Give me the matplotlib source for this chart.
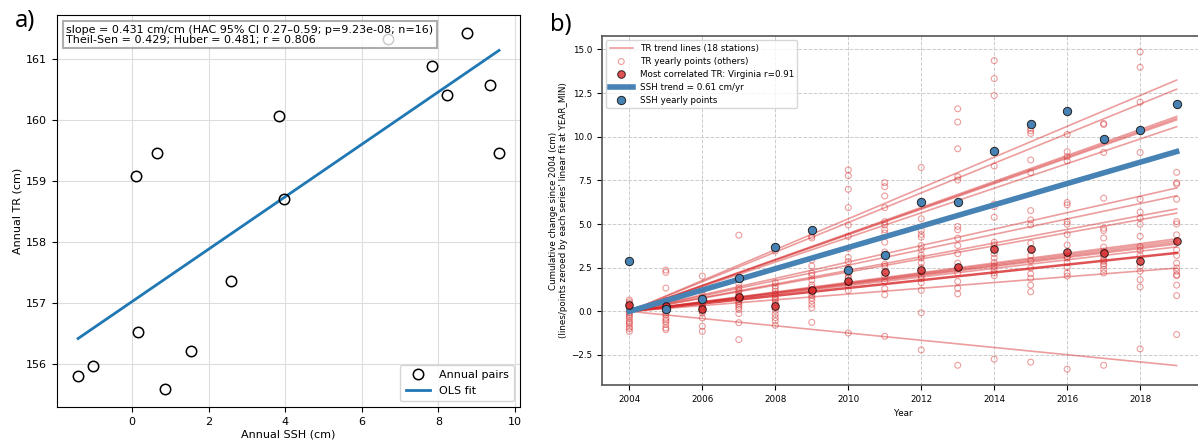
import numpy as np
import matplotlib.pyplot as plt

# ---- panel a: annual SSH vs annual TR ----
ssh_annual = [-1.41, -1.03, 0.11, 0.66, 0.15, 0.85, 1.53, 2.57,
              3.84, 3.97, 6.67, 7.82, 8.74, 8.21, 9.35, 9.58]
tr_annual = [155.81, 155.97, 159.09, 159.46, 156.53, 155.59, 156.21, 157.37,
             160.06, 158.71, 161.33, 160.88, 161.43, 160.41, 160.57, 159.46]
stats_text = ("slope = 0.431 cm/cm (HAC 95% CI 0.27\u20130.59; p=9.23e-08; n=16)\n"
              "Theil-Sen = 0.429; Huber = 0.481; r = 0.806")

# ---- panel b: cumulative change since 2004 ----
years = [2004, 2005, 2006, 2007, 2008, 2009, 2010, 2011,
         2012, 2013, 2014, 2015, 2016, 2017, 2018, 2019]

# trend (cm/yr) of the 18 TR stations; Virginia is the most correlated one
tr_slopes = [0.883, 0.848, 0.744, 0.737, 0.731, 0.705, 0.471, 0.441, 0.391,
             0.375, 0.277, 0.270, 0.263, 0.257, 0.246, 0.223, 0.165, -0.207]
virginia_idx = 15
virginia_r = 0.91

# yearly TR points of the other stations (one list per year)
tr_others = [
    [0.65, 0.55, 0.45, 0.3, 0.2, 0.1, 0.0, -0.1, -0.2, -0.3, -0.4, -0.55, -0.65, -0.75, -0.9, -1.0, -1.15],
    [2.36, 2.23, 1.33, 0.6, 0.45, 0.35, 0.25, 0.15, 0.05, -0.1, -0.2, -0.38, -0.5, -0.6, -0.76, -0.95, -1.05],
    [2.02, 1.2, 0.95, 0.8, 0.7, 0.6, 0.5, 0.4, 0.3, 0.25, 0.2, 0.1, 0.0, -0.1, -0.38, -0.86, -1.15],
    [4.36, 1.6, 1.35, 1.2, 1.07, 0.95, 0.88, 0.75, 0.65, 0.55, 0.46, 0.35, 0.23, 0.1, -0.13, -0.65, -1.62],
    [3.45, 1.64, 1.45, 1.3, 1.15, 1.0, 0.88, 0.75, 0.65, 0.5, 0.4, 0.21, 0.05, -0.17, -0.36, -0.55, -0.8],
    [4.3, 4.2, 2.95, 2.6, 2.19, 2.04, 1.8, 1.52, 1.39, 1.15, 1.05, 0.9, 0.76, 0.6, 0.4, 0.2, -0.63],
    [8.1, 7.77, 6.99, 5.94, 4.95, 4.29, 3.6, 3.09, 2.85, 2.5, 2.19, 2.0, 1.9, 1.66, 1.49, 1.2, -1.24],
    [7.37, 7.14, 6.61, 5.94, 5.14, 4.95, 4.67, 4.48, 3.96, 3.4, 2.7, 2.57, 2.0, 1.71, 1.3, 0.95, -1.43],
    [8.24, 5.3, 4.63, 4.4, 4.25, 3.77, 3.54, 3.22, 3.06, 2.78, 2.5, 2.02, 1.87, 1.64, 1.2, -0.08, -2.21],
    [11.6, 10.84, 9.31, 7.71, 7.52, 4.86, 4.67, 4.19, 3.77, 3.3, 2.76, 2.48, 2.19, 1.71, 1.33, 1.0, -3.09],
    [14.36, 13.33, 12.36, 8.32, 6.15, 6.0, 5.39, 3.96, 3.81, 3.3, 3.05, 2.8, 2.57, 2.38, 2.2, 2.04, -2.74],
    [10.48, 10.34, 10.19, 8.67, 7.94, 5.77, 5.24, 4.95, 3.9, 3.2, 2.9, 2.48, 2.15, 1.9, 1.5, 1.12, -2.91],
    [10.13, 9.14, 8.86, 8.61, 6.23, 6.1, 5.14, 4.99, 4.4, 3.8, 3.14, 3.05, 2.8, 2.53, 2.2, 2.02, -3.31],
    [10.76, 10.7, 9.1, 6.48, 4.76, 4.63, 4.2, 3.68, 3.43, 3.14, 2.95, 2.86, 2.72, 2.6, 2.4, 2.2, -3.09],
    [14.86, 13.98, 11.98, 9.1, 6.42, 5.68, 5.33, 4.99, 4.3, 3.71, 3.49, 3.2, 2.57, 2.3, 1.81, 1.4, -2.15],
    [7.96, 7.37, 7.28, 6.42, 5.14, 5.0, 4.38, 3.52, 3.2, 2.76, 2.48, 2.3, 2.1, 2.04, 1.5, 0.9, -1.33],
]
virginia_pts = [0.34, 0.32, 0.11, 0.82, 0.29, 1.22, 1.75, 2.23,
                2.36, 2.53, 3.56, 3.56, 3.39, 3.35, 2.91, 4.0]

ssh_slope = 0.61
ssh_pts = [2.86, 0.11, 0.69, 1.92, 3.70, 4.65, 2.34, 3.24,
           6.25, 6.25, 9.18, 10.72, 11.49, 9.85, 10.36, 11.89]

TR_RED = '#d62728'
SSH_BLUE = '#4682b4'

fig = plt.figure(figsize=(11.98, 4.44), dpi=100)

# ---------------- panel a ----------------
ax1 = fig.add_axes([0.0476, 0.0833, 0.3865, 0.883])
ax1.plot(ssh_annual, tr_annual, 'o', mfc='none', mec='black', ms=7.5, mew=1.1,
         label='Annual pairs', zorder=3)
m, c = np.polyfit(ssh_annual, tr_annual, 1)
xf = np.array([min(ssh_annual), max(ssh_annual)])
ax1.plot(xf, m * xf + c, color='#1f77b4', lw=2, label='OLS fit', zorder=2)
ax1.grid(True, color='#dddddd', lw=0.8)
ax1.set_axisbelow(True)
ax1.set_xlabel('Annual SSH (cm)', fontsize=8, labelpad=2)
ax1.set_ylabel('Annual TR (cm)', fontsize=8, labelpad=3)
ax1.tick_params(labelsize=8)
ax1.text(0.02, 0.975, stats_text, transform=ax1.transAxes, fontsize=8,
         va='top', ha='left', linespacing=1.0, zorder=5,
         bbox=dict(boxstyle='square,pad=0.3', fc='white', ec='#999999',
                   lw=1.5, alpha=0.8))
ax1.legend(loc='lower right', fontsize=8, framealpha=0.8, handlelength=2.2,
           borderpad=0.5, labelspacing=0.5)

# ---------------- panel b ----------------
ax2 = fig.add_axes([0.5025, 0.1329, 0.5025, 0.786])
yr = np.array(years)
dx = yr - years[0]

for i, s in enumerate(tr_slopes):
    if i == virginia_idx:
        continue
    ax2.plot(yr, s * dx, color=TR_RED, alpha=0.45, lw=1.2,
             label='TR trend lines (18 stations)' if i == 0 else None, zorder=2)

for k, y in enumerate(years):
    vals = tr_others[k]
    ax2.scatter([y] * len(vals), vals, s=18, facecolors='none',
                edgecolors=TR_RED, linewidths=0.8, alpha=0.45, zorder=3,
                label='TR yearly points (others)' if k == 0 else None)

ax2.plot(yr, tr_slopes[virginia_idx] * dx, color=TR_RED, alpha=0.8, lw=1.8, zorder=4)
ax2.scatter(yr, virginia_pts, s=30, color=TR_RED, alpha=0.8, edgecolors='black',
            linewidths=0.7, zorder=6,
            label=f'Most correlated TR: Virginia r={virginia_r:.2f}')

ax2.plot(yr, ssh_slope * dx, color=SSH_BLUE, lw=4, zorder=5,
         label=f'SSH trend = {ssh_slope:.2f} cm/yr')
ax2.scatter(yr, ssh_pts, s=36, color=SSH_BLUE, edgecolors='#222222',
            linewidths=0.7, zorder=7, label='SSH yearly points')

ax2.set_xticks(range(2004, 2020, 2))
ax2.set_yticks(np.arange(-2.5, 15.1, 2.5))
ax2.grid(True, ls='--', color='#cccccc', lw=0.7)
ax2.set_axisbelow(True)
ax2.tick_params(labelsize=6.3)
ax2.set_xlabel('Year', fontsize=6.3, labelpad=4)
ax2.set_ylabel("Cumulative change since 2004 (cm)\n"
               "(lines/points zeroed by each series' linear fit at YEAR_MIN)",
               fontsize=6.3, labelpad=2)
for sp in ax2.spines.values():
    sp.set_color('#555555')
    sp.set_linewidth(1.2)
ax2.legend(loc='upper left', fontsize=6.3, framealpha=0.8, handlelength=2.6,
           borderpad=0.4, labelspacing=0.45)

fig.text(0.012, 0.94, 'a)', fontsize=17, family='Noto Sans')
fig.text(0.459, 0.93, 'b)', fontsize=17, family='Noto Sans')

fig.savefig('out.png', dpi=100)
